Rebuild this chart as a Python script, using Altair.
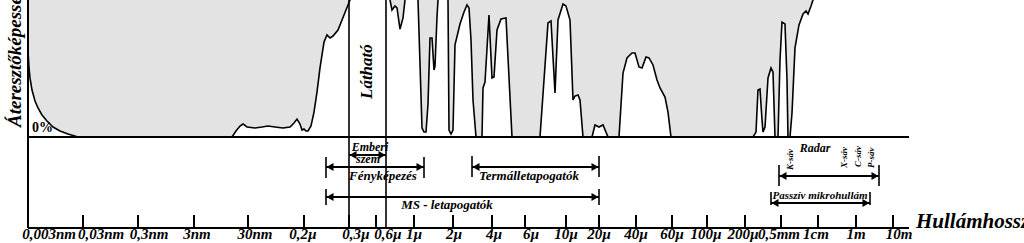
import altair as alt
import pandas as pd

# ---------------- data ----------------
# Transmission curve: position along the (non-uniform) wavelength axis, in axis units,
# and atmospheric transmission in percent (values > 100 run off the top of the frame)
curve_pos = [28, 29, 30, 32, 35, 38, 42, 47, 53, 60, 68, 78,
             232, 236, 240, 243, 247, 255, 262, 268, 275, 283, 290, 294, 297, 300, 302, 304,
             306, 308, 311, 314, 317, 320, 324, 327, 330, 333, 338, 344, 350, 352,
             388, 390, 392, 395, 397, 400, 403, 405, 407, 416, 418, 422, 424, 426, 428, 430,
             432, 434, 435, 437, 438, 440, 446, 448, 449, 451, 453, 455, 460, 464, 467, 469,
             471, 473, 476, 482, 483, 485, 489, 492, 494, 497, 501, 506, 512,
             540, 548, 551, 555, 558, 563, 566, 570, 573, 575, 578, 580, 583,
             592, 595, 599, 603, 608,
             619, 623, 627, 632, 635, 639, 642, 646, 649, 653, 657, 660, 665, 668, 671,
             753, 756, 758, 760, 762, 763, 765, 768, 771, 773, 775, 778, 780, 782, 785, 787,
             788, 790, 792, 795, 799, 803, 806, 808, 811, 813, 815]
curve_pct = [63.5, 50.4, 43.1, 34.3, 26.3, 21.2, 16.1, 11.7, 7.3, 4.4, 2.2, 0,
             0, 4.4, 8.0, 9.5, 7.3, 6.6, 7.3, 8.0, 7.3, 6.6, 7.3, 10.2, 13.1, 9.5, 5.1, 5.8,
             4.4, 4.4, 8.0, 18.2, 32.8, 50.4, 69.3, 74.5, 72.3, 73.7, 78.1, 89.1, 100, 104,
             104, 100, 92.7, 95.6, 94.2, 78.8, 86.9, 100, 104, 104, 100, 6.6, 3.6, 3.6, 24.1, 72.3,
             72.3, 48.9, 51.8, 87.6, 100, 104, 104, 100, 5.1, 2.2, 5.1, 67.2, 82.5, 91.2, 96.4, 94.2,
             70.8, 27.0, 0, 0, 35.8, 40.1, 89.1, 43.1, 43.8, 78.1, 86.1, 86.9, 0,
             0, 83.2, 84.7, 32.1, 85.4, 97.1, 95.6, 85.4, 27.0, 29.9, 30.7, 27.0, 0,
             0, 8.8, 7.3, 8.8, 0,
             0, 46.7, 57.7, 61.3, 61.3, 51.1, 50.4, 58.4, 57.7, 52.6, 41.6, 35.8, 29.2, 18.2, 0,
             0, 3.6, 34.3, 35.0, 12.4, 3.6, 7.3, 43.1, 50.4, 47.4, 0, 0, 56.2, 83.9, 82.5, 41.6,
             0, 0, 17.5, 65.0, 81.8, 89.8, 92.0, 89.8, 95.6, 100, 104]

# Axis ticks (axis units) and their labels
tick_pos = [83, 138, 194, 248, 304, 349, 376, 414, 453, 492, 525, 566, 599, 636, 672,
            707, 745, 781, 818, 856, 893]
label_pos = [49, 101, 149, 197, 255, 303, 356, 388, 414, 454, 494, 531, 566, 599, 636, 672,
             706, 743, 779, 816, 856, 899]
label_txt = ["0,003nm", "0,03nm", "0,3nm", "3nm", "30nm", "0,2µ", "0,3µ", "0,6µ", "1µ", "2µ",
             "4µ", "6µ", "10µ", "20µ", "40µ", "60µ", "100µ", "200µ", "0,5mm", "1cm", "1m", "10m"]

# Frame extents (axis units)
axis_start = 28
axis_end = 909

# Visible band edges (axis units)
visible_band = [349, 386]

# Sensor ranges (axis units)
span_eye = (349, 386)
span_photo = (326, 424)
span_thermal = (472, 599)
span_ms = (326, 599)
span_radar = (779, 879)
span_passive = (771, 870)

# ---------------- chart ----------------
W, H = 1024, 243
FONT = "Liberation Serif, Times New Roman, Times, serif"
xs = alt.Scale(domain=[0, W], nice=False, zero=False)
ys = alt.Scale(domain=[100 - 100 * H / 137, 100], nice=False, zero=False)

curve_df = pd.DataFrame({"pos": curve_pos, "pct": curve_pct})

grey = alt.Chart(curve_df).mark_area(color="#e3e3e3", opacity=1, clip=True, interpolate="linear").encode(
    x=alt.X("pos:Q", scale=xs, axis=None),
    y=alt.Y("pct:Q", scale=ys, axis=None),
    y2=alt.datum(100),
)
line = alt.Chart(curve_df).mark_line(color="black", strokeWidth=1.6, clip=True).encode(
    x=alt.X("pos:Q", scale=xs, axis=None),
    y=alt.Y("pct:Q", scale=ys, axis=None),
)

frame_df = pd.DataFrame({"a": [axis_start], "b": [axis_end], "pct": [0]})
baseline = alt.Chart(frame_df).mark_rule(color="black", strokeWidth=2).encode(
    x=alt.X("a:Q", scale=xs, axis=None), x2="b:Q",
    y=alt.Y("pct:Q", scale=ys, axis=None),
)
bottom_axis = alt.Chart(frame_df).mark_rule(color="black", strokeWidth=2).encode(
    x=alt.X("a:Q", scale=xs, axis=None), x2="b:Q", y=alt.value(228),
)
left_axis = alt.Chart(frame_df).mark_rule(color="black", strokeWidth=2).encode(
    x=alt.X("a:Q", scale=xs, axis=None), y=alt.value(0), y2=alt.value(228),
)
band_lines = alt.Chart(pd.DataFrame({"a": visible_band})).mark_rule(color="black", strokeWidth=1.6).encode(
    x=alt.X("a:Q", scale=xs, axis=None), y=alt.value(0), y2=alt.value(228),
)

ticks = alt.Chart(pd.DataFrame({"a": tick_pos})).mark_rule(color="black", strokeWidth=2).encode(
    x=alt.X("a:Q", scale=xs, axis=None), y=alt.value(215), y2=alt.value(228),
)
tick_labels = alt.Chart(pd.DataFrame({"a": label_pos, "t": label_txt})).mark_text(
    font=FONT, fontSize=15, fontStyle="italic", fontWeight="bold", align="center",
    baseline="alphabetic", color="black",
).encode(x=alt.X("a:Q", scale=xs, axis=None), y=alt.value(239), text="t:N")


def arrow(span, y, bar_top=None, bar_bottom=None):
    df = pd.DataFrame({"a": [span[0]], "b": [span[1]]})
    base = alt.Chart(df)
    layers = [
        base.mark_rule(color="black", strokeWidth=2).encode(
            x=alt.X("a:Q", scale=xs, axis=None), x2="b:Q", y=alt.value(y)),
        base.mark_point(shape="triangle-left", filled=True, color="black", size=65,
                        opacity=1, xOffset=4).encode(
            x=alt.X("a:Q", scale=xs, axis=None), y=alt.value(y)),
        base.mark_point(shape="triangle-right", filled=True, color="black", size=65,
                        opacity=1, xOffset=-4).encode(
            x=alt.X("b:Q", scale=xs, axis=None), y=alt.value(y)),
    ]
    if bar_top is not None:
        bars = pd.DataFrame({"a": [span[0], span[1]]})
        layers.append(alt.Chart(bars).mark_rule(color="black", strokeWidth=1.6).encode(
            x=alt.X("a:Q", scale=xs, axis=None), y=alt.value(bar_top), y2=alt.value(bar_bottom)))
    return layers


def label(text, x, y, size, align="center", angle=0, italic=True):
    kw = dict(font=FONT, fontSize=size, fontWeight="bold", align=align,
              baseline="alphabetic", color="black", text=text)
    if italic:
        kw["fontStyle"] = "italic"
    if angle:
        kw["angle"] = angle
    return alt.Chart(pd.DataFrame({"k": [0]})).mark_text(**kw).encode(
        x=alt.value(x), y=alt.value(y))


layers = [grey, line, baseline, bottom_axis, left_axis, band_lines, ticks, tick_labels]
layers += arrow(span_eye, 155)
layers += arrow(span_photo, 167, 157, 178)
layers += arrow(span_thermal, 167, 156, 177)
layers += arrow(span_ms, 197, 189, 205)
layers += arrow(span_radar, 176, 165, 186)
layers += arrow(span_passive, 203, 192, 205)

layers += [
    label("Áteresztőképesség", 21, 127, 19, align="left", angle=270),
    label("0%", 32, 132, 14, align="left", italic=False),
    label("Látható", 372, 99, 17, align="left", angle=270),
    label("Emberi", 370, 151, 12),
    label("szem", 368, 163, 12),
    label("Fényképezés", 383, 180, 13),
    label("Termálletapogatók", 529, 180, 13),
    label("MS - letapogatók", 447, 209, 13),
    label("Radar", 815, 152, 12),
    label("K-sáv", 793, 170, 9, align="left", angle=270),
    label("X-sáv", 847, 168, 9, align="left", angle=270),
    label("C-sáv", 861, 167, 9, align="left", angle=270),
    label("P-sáv", 874, 168, 9, align="left", angle=270),
    label("Passzív mikrohullám", 820, 199, 11),
    label("Hullámhossz", 916, 228, 21, align="left"),
]

chart = alt.layer(*layers).properties(
    width=W, height=H, padding=0, autosize=alt.AutoSizeParams(type="none"),
    background="white",
).configure_view(stroke=None)

chart.save("out.html", embed_options={"renderer": "svg", "actions": False})
